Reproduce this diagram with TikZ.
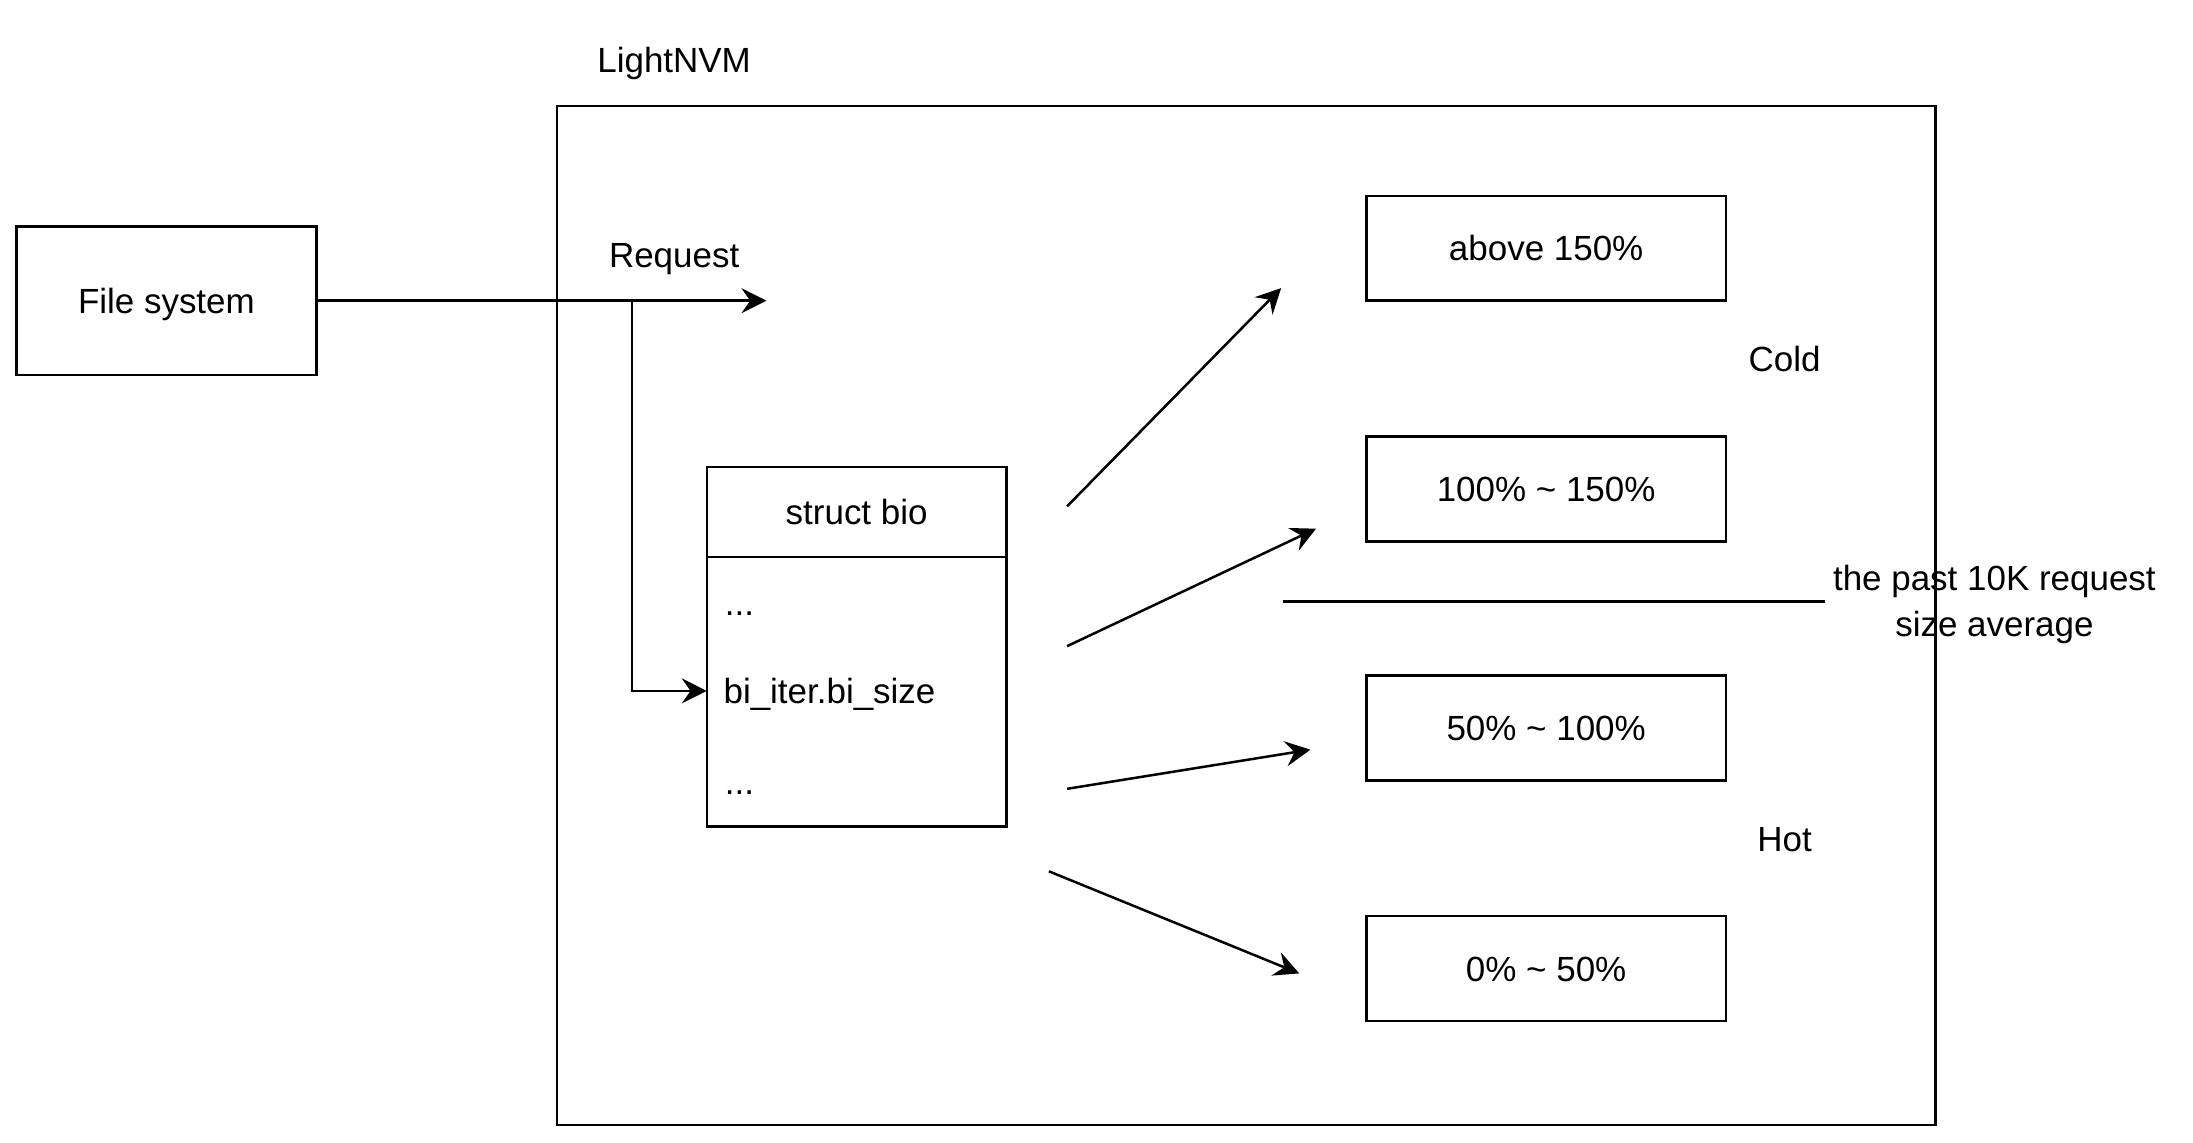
\documentclass[tikz,border=0pt]{standalone}
\usepackage{fontspec}
\setmainfont{Liberation Sans}
\usetikzlibrary{positioning,arrows.meta}

\begin{document}
\begin{tikzpicture}[
    x=0.56pt,
    y=-0.56pt,
    box/.style={
        draw,
        rectangle,
        line width=1pt,
        inner sep=0pt,
        outer sep=0pt,
        text height=10pt,
        text depth=0pt,
        align=center
    },
    rangebox/.style={
        box,
        minimum width=144pt,
        minimum height=42pt
    },
    flow/.style={
        -{Stealth[length=10pt,width=10pt,inset=3.5pt]},
        line width=1pt
    },
    txt/.style={
        inner sep=0pt,
        text height=10pt,
        text depth=0pt
    },
    note/.style={
        inner sep=3pt,
        align=center
    },
    font=\fontsize{14}{18.5}\selectfont
]
    \useasboundingbox (0,0) rectangle (1568,817);

    % LightNVM container
    \node[box, minimum width=552pt, minimum height=408pt] (nvm) at (891,440) {};
    \node[txt] (nvmlabel) at (482,43) {LightNVM};

    % File system
    \node[box, minimum width=120pt, minimum height=59.5pt] (fs) at (119,215) {File system};

    % struct bio
    \node[box, minimum width=120pt, minimum height=36pt] (bio) at (612.5,366) {struct bio};
    \node[box, minimum width=120pt, minimum height=108pt, below=0pt of bio] (body) {};
    \node[txt, anchor=west] (dots1) at (518,431) {...};
    \node[txt, anchor=west] (size) at (517,494) {bi\_iter.bi\_size};
    \node[txt, anchor=west] (dots2) at (518,559) {...};

    % size ranges
    \node[rangebox] (r150) at (1105.5,177.5) {above 150\%};
    \node[rangebox] (r100) at (1105.5,349.5) {100\% \textasciitilde{} 150\%};
    \node[rangebox] (r50) at (1105.5,520.5) {50\% \textasciitilde{} 100\%};
    \node[rangebox] (r0) at (1105.5,692.5) {0\% \textasciitilde{} 50\%};

    \node[txt] (cold) at (1276,257) {Cold};
    \node[txt] (hot) at (1276,600) {Hot};
    \node[note, yshift=-1.2pt] (avg) at (1426,430) {the past 10K request\\size average};

    % request path
    \node[txt] (req) at (482,182) {Request};
    \coordinate (reqend) at (548,215);
    \coordinate (split) at (452,215);
    \draw[flow] (fs.east) -- (reqend);
    \draw[flow] (split) |- (body.west |- size.west);

    % classification arrows
    \coordinate (a1) at (763,362);
    \coordinate (b1) at (916,206);
    \coordinate (a2) at (763,462);
    \coordinate (b2) at (941,378);
    \coordinate (a3) at (763,564);
    \coordinate (b3) at (937,536);
    \coordinate (a4) at (750,623);
    \coordinate (b4) at (929,696);
    \draw[flow] (a1) -- (b1);
    \draw[flow] (a2) -- (b2);
    \draw[flow] (a3) -- (b3);
    \draw[flow] (a4) -- (b4);

    % average line
    \coordinate (lineL) at (917,430);
    \draw[line width=1pt] (lineL) -- (avg.west |- lineL);

\end{tikzpicture}
\end{document}
